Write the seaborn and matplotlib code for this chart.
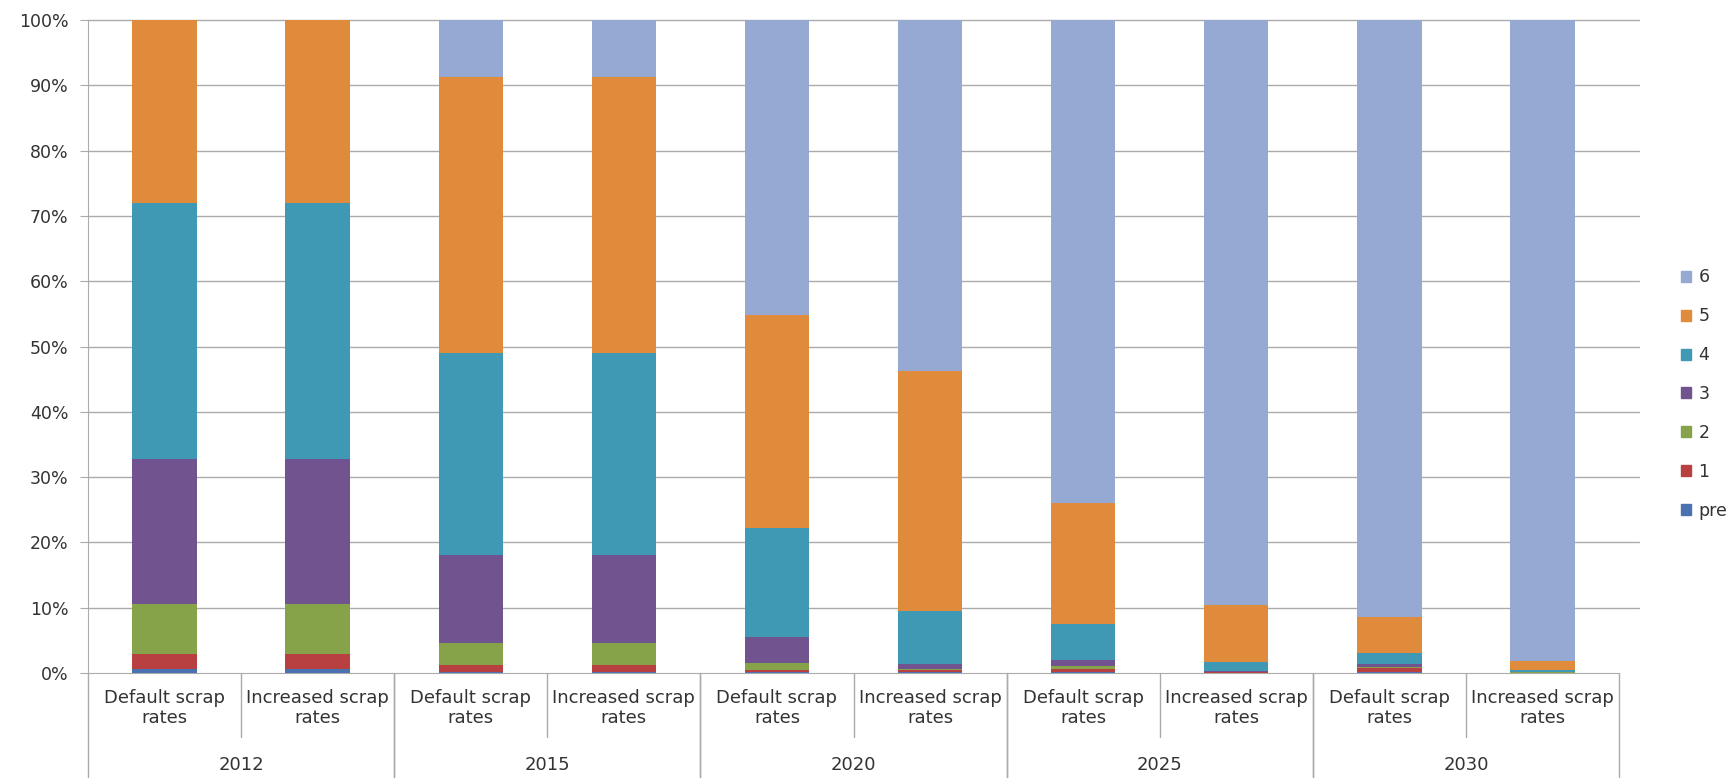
import numpy as np
import pandas as pd
import matplotlib
matplotlib.use("Agg")
import matplotlib.pyplot as plt
import matplotlib.patches as mpatches
import seaborn as sns

# ---- data (percent shares per bar) ----
years = ["2012", "2015", "2020", "2025", "2030"]
scenarios = ["Default scrap\nrates", "Increased scrap\nrates"]
series = ["pre", "1", "2", "3", "4", "5", "6"]

pre = [0.6, 0.6, 0.1, 0.1, 0.2, 0.1, 0.2, 0.05, 0.2, 0.0]
s1 = [2.3, 2.3, 1.1, 1.1, 0.3, 0.3, 0.4, 0.05, 0.5, 0.0]
s2 = [7.7, 7.7, 3.4, 3.4, 1.0, 0.2, 0.4, 0.05, 0.2, 0.1]
s3 = [22.1, 22.1, 13.4, 13.4, 4.0, 0.8, 1.0, 0.1, 0.5, 0.1]
s4 = [39.3, 39.3, 31.0, 31.0, 16.7, 8.1, 5.5, 1.5, 1.6, 0.2]
s5 = [28.0, 28.0, 42.3, 42.3, 32.6, 36.7, 18.5, 8.7, 5.5, 1.4]
s6 = [0.0, 0.0, 8.7, 8.7, 45.2, 53.8, 74.0, 89.5, 91.5, 98.2]

colors = {
    "pre": "#4A72B0", "1": "#B94040", "2": "#87A34A", "3": "#71548F",
    "4": "#3F98B4", "5": "#E08A3C", "6": "#95A9D2",
}

bars = [f"{y}|{s}" for y in years for s in scenarios]
df = pd.DataFrame({"bar": bars, "pre": pre, "1": s1, "2": s2, "3": s3,
                   "4": s4, "5": s5, "6": s6})
# cumulative tops, normalised to 100%
vals = df[series].values
vals = vals / vals.sum(axis=1, keepdims=True) * 100
cum = np.cumsum(vals, axis=1)

sns.set_style("white")
plt.rcParams["font.family"] = ["DejaVu Sans"]

W, H = 1729, 782
fig = plt.figure(figsize=(W / 100, H / 100), dpi=100)
ax = fig.add_axes([88 / W, 1 - 673 / H, (1619 - 88) / W, (673 - 20) / H])

# draw from the top layer down so each shorter bar covers the one behind
for i in range(len(series) - 1, -1, -1):
    sns.barplot(x=df["bar"], y=cum[:, i], color=colors[series[i]], width=0.42,
                saturation=1, ax=ax, zorder=3, order=bars, errorbar=None,
                linewidth=0, edgecolor="none")

ax.set_ylim(0, 100)
ax.set_xlim(-0.5, len(bars) - 0.5)
ax.set_yticks(np.arange(0, 101, 10))
ax.set_yticklabels([f"{v}%" for v in range(0, 101, 10)], fontsize=12.5, color="#333333")
ax.set_axisbelow(True)
ax.tick_params(axis="y", length=6, color="#ABABAB", pad=8, left=True)
ax.set_xticks([])
ax.set_xlabel("")
ax.set_ylabel("")
for side in ["top", "right"]:
    ax.spines[side].set_visible(False)
ax.spines["left"].set_color("#ABABAB")
ax.spines["bottom"].set_color("#ABABAB")

# gridlines run a little past the last category, like the original
for v in range(10, 101, 10):
    ax.plot([-0.5, 9.63], [v, v], color="#ABABAB", lw=1, zorder=0, clip_on=False)

# multi-level category axis
trans = ax.get_xaxis_transform()
row1 = -64 / 653
row2 = -104 / 653
for k, b in enumerate(bars):
    yr, sc = b.split("|")
    ax.text(k, -35 / 653, sc, transform=trans, ha="center", va="center",
            fontsize=13, color="#333333", linespacing=1.15)
    edge = k + 0.5
    if k % 2 == 0:
        ax.plot([edge, edge], [0, row1], transform=trans, color="#ABABAB",
                lw=1, clip_on=False)
for j, yr in enumerate(years):
    ax.text(2 * j + 0.5, -92 / 653, yr, transform=trans, ha="center", va="center",
            fontsize=13, color="#333333")
    for edge in [2 * j - 0.5, 2 * j + 1.5]:
        ax.plot([edge, edge], [0, row2], transform=trans, color="#ABABAB",
                lw=1, clip_on=False)

# legend
handles = [mpatches.Patch(color=colors[s], label=s) for s in reversed(series)]
fig.legend(handles=handles, loc="center left", bbox_to_anchor=(1681 / W, 1 - 394 / H),
           frameon=False, fontsize=12.5, handlelength=0.6, handleheight=0.6,
           handletextpad=0.4, labelspacing=1.2, labelcolor="#333333",
           borderaxespad=0, borderpad=0)

fig.savefig("out.png", dpi=100)
